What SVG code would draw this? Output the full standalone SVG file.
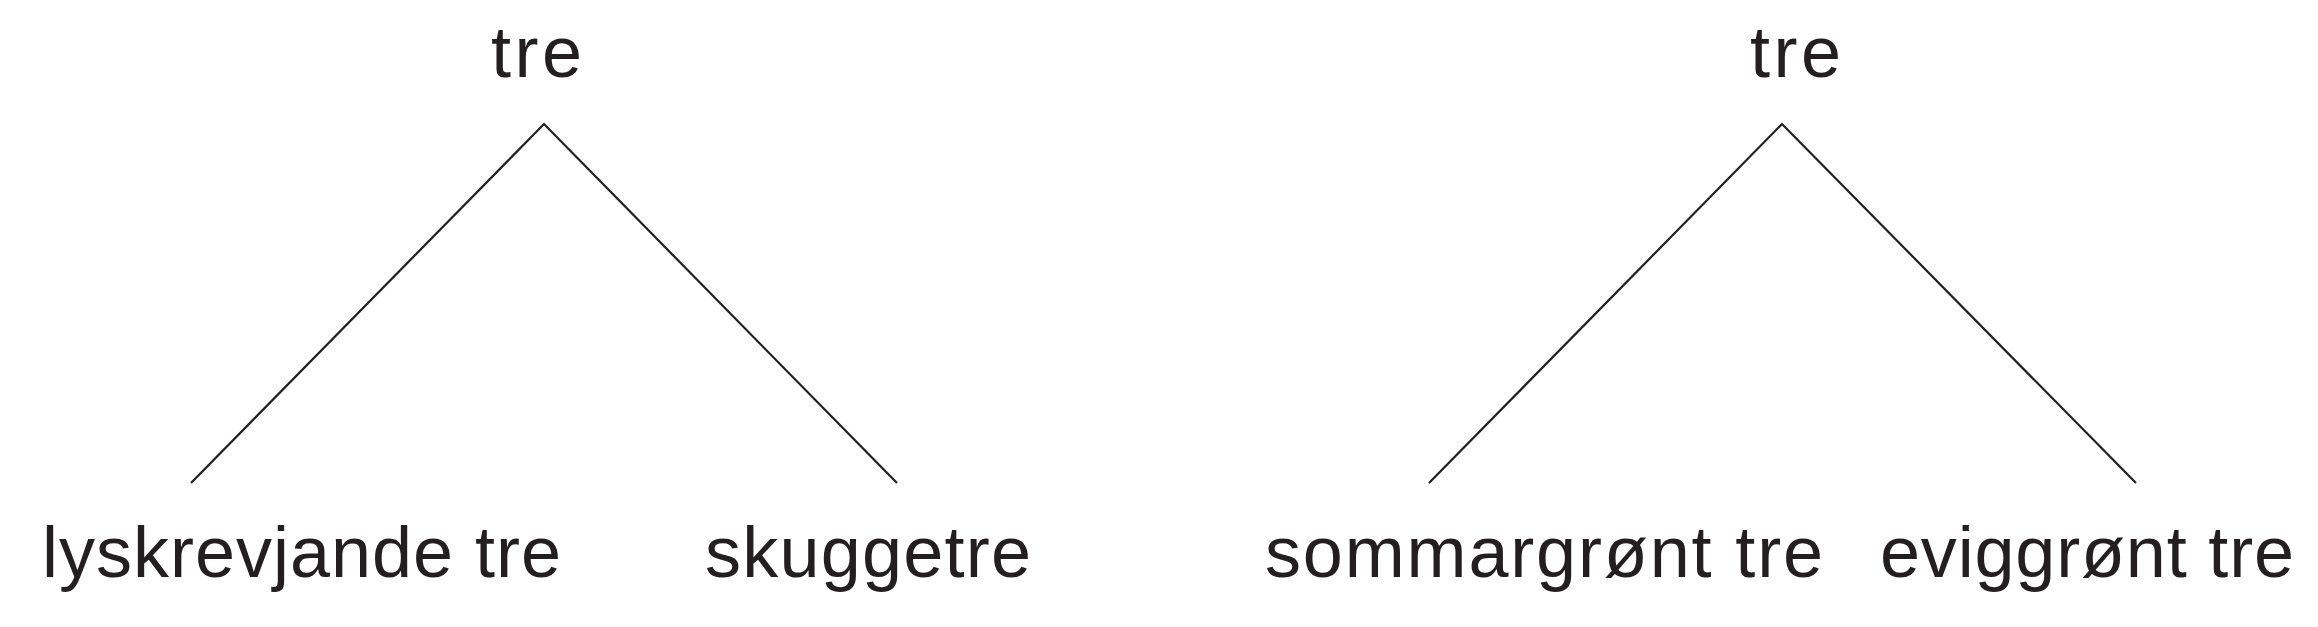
<svg xmlns="http://www.w3.org/2000/svg" width="2318" height="627" viewBox="0 0 2318 627">
  <style>
    .lbl { font-family: "Liberation Sans", Arial, sans-serif; font-size: 72px; fill: #231f20; }
    .edge { fill: none; stroke: #231f20; stroke-width: 2.2; stroke-linejoin: miter; }
  </style>
  <rect width="2318" height="627" fill="#ffffff"/>
  <g id="connectors">
    <polyline class="edge" points="191,483 544,124 897,483"/>
    <polyline class="edge" points="1429,483 1782,124 2136,483"/>
  </g>
  <g id="node-tre-1">
    <text class="lbl" x="491" y="77" textLength="91" lengthAdjust="spacing">tre</text>
  </g>
  <g id="node-lyskrevjande">
    <text class="lbl" x="42" y="577" textLength="519" lengthAdjust="spacing">lyskrevjande tre</text>
  </g>
  <g id="node-skuggetre">
    <text class="lbl" x="705" y="577" textLength="326" lengthAdjust="spacing">skuggetre</text>
  </g>
  <g id="node-tre-2">
    <text class="lbl" x="1750" y="77" textLength="91" lengthAdjust="spacing">tre</text>
  </g>
  <g id="node-sommargront">
    <text class="lbl" x="1265" y="577" textLength="558" lengthAdjust="spacing">sommargrønt tre</text>
  </g>
  <g id="node-eviggront">
    <text class="lbl" x="1880" y="577" textLength="414" lengthAdjust="spacing">eviggrønt tre</text>
  </g>
</svg>
